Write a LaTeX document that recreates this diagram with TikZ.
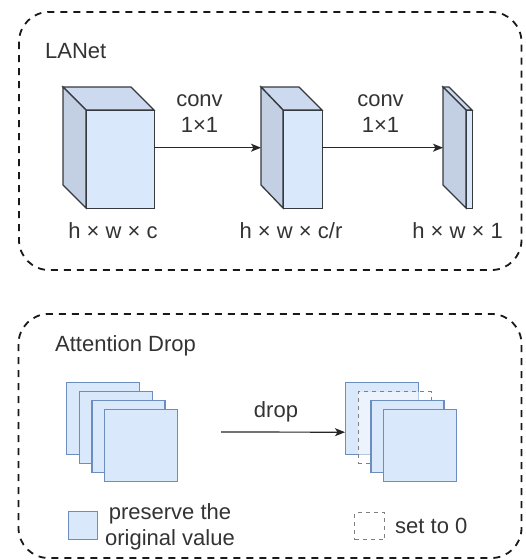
\documentclass[tikz,border=0pt]{standalone}
\usepackage{fontspec}
\setmainfont{Liberation Sans}
\usetikzlibrary{arrows.meta}
\definecolor{txt}{HTML}{333333}
\definecolor{bluefill}{HTML}{DAE8FC}
\definecolor{bluestroke}{HTML}{6C8EBF}
\definecolor{cubetop}{HTML}{CDD9EE}
\definecolor{cubeside}{HTML}{C3CFE2}
\definecolor{cubeline}{HTML}{36393D}
\definecolor{zerogray}{HTML}{808080}
\begin{document}
\begin{tikzpicture}[x=1pt,y=-1pt,
  lbl/.style={font=\fontsize{22}{26}\selectfont, text=txt, inner sep=0pt},
  group/.style={draw=black!90, line width=1.8pt, dash pattern=on 7pt off 6pt, rounded corners=30pt},
  face/.style={draw=cubeline, line width=1.3pt, line join=miter},
  hull/.style={inner sep=0pt, anchor=north west},
  fmap/.style={draw=bluestroke, fill=bluefill, line width=1.4pt, inner sep=0pt, anchor=north west, minimum width=73pt, minimum height=72pt},
  zmap/.style={draw=zerogray, line width=1.4pt, dash pattern=on 4pt off 4pt, inner sep=0pt, anchor=north west},
  conn/.style={draw=black!85, line width=1.2pt, -{Stealth[length=10pt,width=8pt,inset=2.5pt]}}
]
\useasboundingbox (0,0) rectangle (526,560);

% group frames
\draw[group] (19,12) rectangle (521.5,270);
\draw[group] (18.5,314) rectangle (521.5,558);

% ---------- LANet ----------
\node[lbl, anchor=base west] (lanet) at (45,58.3) {LANet};

% cube 1
\node[hull, minimum width=91pt, minimum height=121pt] (cube1) at (63,87) {};
\filldraw[face, fill=cubetop] (63,87) -- (131,87) -- (154,110) -- (86,110) -- cycle;
\filldraw[face, fill=cubeside] (63,87) -- (86,110) -- (86,208) -- (63,185) -- cycle;
\node[face, fill=bluefill, hull, minimum width=68pt, minimum height=98pt] (front1) at (86,110) {};

% cube 2
\node[hull, minimum width=61pt, minimum height=121pt] (cube2) at (261,87) {};
\filldraw[face, fill=cubetop] (261,87) -- (299,87) -- (322,110) -- (283,110) -- cycle;
\filldraw[face, fill=cubeside] (261,87) -- (283,110) -- (283,208) -- (261,185) -- cycle;
\node[face, fill=bluefill, hull, minimum width=39pt, minimum height=98pt] (front2) at (283,110) {};

% cube 3
\node[hull, minimum width=29pt, minimum height=121pt] (cube3) at (443,87) {};
\filldraw[face, fill=cubetop] (443,87) -- (449,87) -- (472,110) -- (466,110) -- cycle;
\filldraw[face, fill=cubeside] (443,87) -- (466,110) -- (466,208) -- (443,185) -- cycle;
\node[face, fill=bluefill, hull, minimum width=6pt, minimum height=98pt] (front3) at (466,110) {};

\draw[conn] (cube1.east) -- (cube2.west);
\draw[conn] (cube2.east) -- (cube3.west);

\node[lbl, align=center] (conv1) at (199.5,113.7) {conv\\1×1};
\node[lbl, align=center] (conv2) at (380.5,113.7) {conv\\1×1};

\node[lbl, anchor=base] (dim1) at (113,238) {h × w × c};
\node[lbl, anchor=base] (dim2) at (291,238) {h × w × c/r};
\node[lbl, anchor=base] (dim3) at (457.5,238) {h × w × 1};

% ---------- Attention Drop ----------
\node[lbl, anchor=base west] (adrop) at (55,351) {Attention Drop};

\node[fmap] (l1) at (66,382) {};
\node[fmap] (l2) at (78.7,391) {};
\node[fmap] (l3) at (91.3,400) {};
\node[fmap] (l4) at (104,409) {};

\node[hull, minimum width=110pt, minimum height=100pt] (rstack) at (345,382) {};
\node[fmap] (r1) at (345,382) {};
\node[zmap, fill=white, fill opacity=0.5, minimum width=73pt, minimum height=72pt] (r2) at (357.7,391) {};
\node[fmap] (r3) at (370.3,400) {};
\node[fmap] (r4) at (383,409) {};

\coordinate (dropstart) at (221,432);
\draw[conn] (dropstart) -- (rstack.west);
\node[lbl, anchor=base] (droplbl) at (276,417) {drop};

% legend
\node[fmap, minimum width=29pt, minimum height=28pt] (keyblue) at (68,511) {};
\node[lbl, align=center] (keybluetxt) at (170,527) {preserve the\\original value};
\node[zmap, minimum width=30pt, minimum height=27pt] (keyzero) at (354,512) {};
\node[lbl, anchor=base west] (keyzerotxt) at (395,533) {set to 0};
\end{tikzpicture}
\end{document}
